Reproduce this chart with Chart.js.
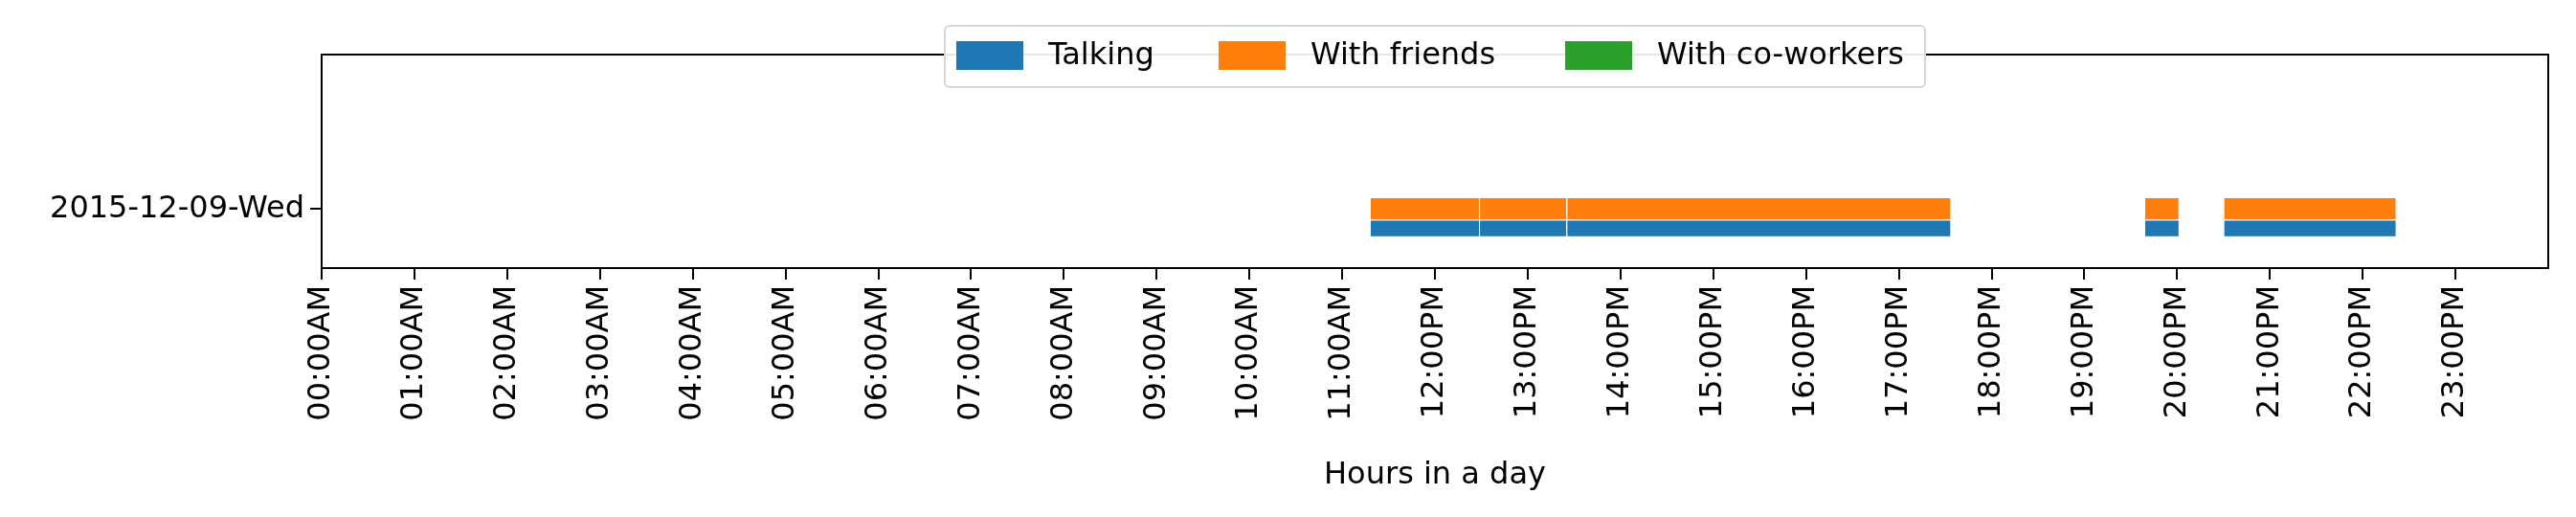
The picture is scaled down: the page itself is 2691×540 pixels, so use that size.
<!DOCTYPE html>
<html>
<head>
<meta charset="utf-8">
<script src="https://cdn.jsdelivr.net/npm/chart.js@4"></script>
<style>
  html, body { margin: 0; padding: 0; background: #fff; }
</style>
</head>
<body>
<canvas id="chart" width="2691" height="540"></canvas>
<script>
// hours of day, [start, end]
const talkingSegments = [[11.30, 12.48], [12.48, 13.42], [13.42, 17.56], [19.65, 20.02], [20.50, 22.36]];
const friendsSegments = [[11.30, 12.48], [12.48, 13.42], [13.42, 17.56], [19.65, 20.02], [20.50, 22.36]];
const coworkerSegments = [];
// vertical bands of each series around the day row (row at 0)
const talkingBand = [-0.47, -0.19];
const friendsBand = [-0.19, 0.19];
const coworkerBand = [0.19, 0.5];
const dayLabels = ["2015-12-09-Wed"];
const hourTicks = Array.from({ length: 24 }, (_, h) => h);
const seriesNames = ["Talking", "With friends", "With co-workers"];
const seriesColors = ["#1f77b4", "#ff7f0e", "#2ca02c"];

const FONT = "'DejaVu Sans', sans-serif";
const FS = 32;

function hourLabel(h) {
  return String(h).padStart(2, "0") + ":00" + (h < 12 ? "AM" : "PM");
}

function rectDatasets(name, segments, band, color) {
  return segments.map(([a, b]) => ({
    label: name,
    data: [{ x: a, y: band[0] }, { x: b, y: band[0] }, { x: b, y: band[1] }, { x: a, y: band[1] }, { x: a, y: band[0] }],
    backgroundColor: color,
    borderColor: "#ffffff",
    borderWidth: 1,
    pointRadius: 0,
    tension: 0,
    fill: "shape",
  }));
}

const frame = {
  id: "frame",
  afterDatasetsDraw(chart) {
    const { ctx, chartArea: a } = chart;
    ctx.save();
    ctx.strokeStyle = "#000";
    ctx.lineWidth = 2;
    ctx.strokeRect(a.left, a.top, a.right - a.left, a.bottom - a.top);
    ctx.restore();
  },
  afterDraw(chart) {
    const ctx = chart.ctx;
    ctx.save();
    const x0 = 987, y0 = 27, w = 1024, h = 64;
    ctx.fillStyle = "rgba(255,255,255,0.9)";
    ctx.strokeStyle = "#d6d6d6";
    ctx.lineWidth = 2;
    ctx.beginPath();
    ctx.roundRect(x0, y0, w, h, 5);
    ctx.fill();
    ctx.stroke();
    const patchX = [999, 1273, 1635];
    ctx.font = FS + "px " + FONT;
    ctx.textBaseline = "middle";
    seriesNames.forEach((n, i) => {
      ctx.fillStyle = seriesColors[i];
      ctx.fillRect(patchX[i], 43, 70, 30);
      ctx.fillStyle = "#000";
      ctx.fillText(n, patchX[i] + 96, 59);
    });
    ctx.restore();
  },
};

new Chart(document.getElementById("chart"), {
  type: "line",
  data: {
    datasets: [
      ...rectDatasets(seriesNames[0], talkingSegments, talkingBand, seriesColors[0]),
      ...rectDatasets(seriesNames[1], friendsSegments, friendsBand, seriesColors[1]),
      ...rectDatasets(seriesNames[2], coworkerSegments, coworkerBand, seriesColors[2]),
    ],
  },
  options: {
    responsive: false,
    animation: false,
    devicePixelRatio: 1,
    layout: { padding: { top: 57, right: 29, left: 0, bottom: 20 } },
    plugins: { legend: { display: false }, tooltip: { enabled: false } },
    scales: {
      x: {
        type: "linear",
        min: 0,
        max: 24,
        afterBuildTicks: (s) => { s.ticks = hourTicks.map((v) => ({ value: v })); },
        afterFit: (s) => { s.height = 240; },
        grid: { drawOnChartArea: false, drawTicks: true, tickLength: 12, color: "#000", lineWidth: 2 },
        border: { display: true, color: "#000", width: 2 },
        ticks: {
          minRotation: 90,
          maxRotation: 90,
          autoSkip: false,
          padding: 6,
          color: "#000",
          font: { family: FONT, size: FS },
          callback: (v) => hourLabel(v),
        },
        title: { display: true, text: "Hours in a day", color: "#000", font: { family: FONT, size: FS }, padding: { top: 4 } },
      },
      y: {
        type: "linear",
        min: -1,
        max: 2.61,
        afterBuildTicks: (s) => { s.ticks = dayLabels.map((_, i) => ({ value: i })); },
        afterFit: (s) => { s.width = 336; },
        grid: { drawOnChartArea: false, drawTicks: true, tickLength: 12, color: "#000", lineWidth: 2 },
        border: { display: true, color: "#000", width: 2 },
        ticks: {
          padding: 6,
          color: "#000",
          font: { family: FONT, size: FS },
          callback: (v) => dayLabels[v] ?? "",
        },
      },
    },
  },
  plugins: [frame],
});
</script>
</body>
</html>
